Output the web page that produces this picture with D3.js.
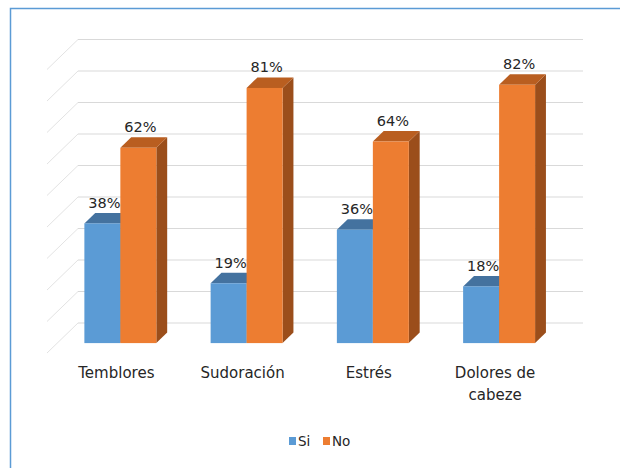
<!DOCTYPE html>
<html>
<head>
<meta charset="utf-8">
<script src="https://cdn.jsdelivr.net/npm/d3@7"></script>
<style>
    body { margin: 0; background: #fff; }
    svg { display: block; }
</style>
</head>
<body>
<div id="svg-container"></div>
<script>
/* 3d bar chart, Si / No por sintoma */
let categories = ["Temblores", "Sudoración", "Estrés", "Dolores de cabeze"];
let catLines = [["Temblores"], ["Sudoración"], ["Estrés"], ["Dolores de", "cabeze"]];
let seriesNames = ["Si", "No"];
let siValues = [0.38, 0.19, 0.36, 0.18];
let noValues = [0.62, 0.81, 0.64, 0.82];
let tickValues = [0, 0.1, 0.2, 0.3, 0.4, 0.5, 0.6, 0.7, 0.8, 0.9];

let svg_width = 620, svg_height = 468;
let font = "'DejaVu Sans', Verdana, sans-serif";

// floor front edge and depth vector (oblique projection)
let floorLeft = 47, floorRight = 552, floorY = 353;
let depthX = 31, depthY = 30;
let barZ0 = 0.33, barZ1 = 0.68;

let colors = {
    "Si": {front: "#5b9bd5", top: "#44729f", side: "#3d6792"},
    "No": {front: "#ed7d31", top: "#b95e20", side: "#9b4e1b"}
};

let svg = d3.select("#svg-container")
    .append("svg")
    .attr("width", svg_width)
    .attr("height", svg_height)
    .attr("id", "chart-svg");

// chart area border (only top and left show in the crop)
svg.append("path")
    .attr("d", "M10.5," + svg_height + " L10.5,8.5 L" + svg_width + ",8.5")
    .attr("fill", "none")
    .attr("stroke", "#5b9bd5")
    .attr("stroke-width", 1.5);

let x = d3.scaleBand()
    .domain(categories)
    .range([floorLeft, floorRight])
    .paddingInner(0.43)
    .paddingOuter(0.215);

let xs = d3.scaleBand()
    .domain(seriesNames)
    .range([0, x.bandwidth()]);

let y = d3.scaleLinear()
    .domain([0, 0.9])
    .range([floorY, floorY - 283.5]);

// project a point (front x, value, depth z in 0..1)
let px = function (fx, z) { return fx + depthX * z; };
let py = function (v, z) { return y(v) - depthY * z; };

// gridlines: back wall + side wall
let grid = svg.append("g").attr("id", "grid");
grid.selectAll(".back")
    .data(tickValues)
    .enter()
    .append("line")
    .attr("x1", px(floorLeft, 1))
    .attr("x2", px(floorRight, 1))
    .attr("y1", function (d) { return py(d, 1); })
    .attr("y2", function (d) { return py(d, 1); })
    .attr("stroke", "#d9d9d9")
    .attr("stroke-width", 1.2);
grid.selectAll(".side")
    .data(tickValues)
    .enter()
    .append("line")
    .attr("x1", px(floorLeft, 0))
    .attr("x2", px(floorLeft, 1))
    .attr("y1", function (d) { return py(d, 0); })
    .attr("y2", function (d) { return py(d, 1); })
    .attr("stroke", "#e3e3e3")
    .attr("stroke-width", 1);

let barsData = [];
categories.forEach(function (c, i) {
    barsData.push({cat: c, series: "Si", value: siValues[i]});
    barsData.push({cat: c, series: "No", value: noValues[i]});
});

let barGroup = svg.append("g").attr("id", "bars");
barGroup.selectAll(".bar")
    .data(barsData)
    .enter()
    .append("g")
    .attr("class", "bar")
    .each(function (d) {
        let g = d3.select(this);
        let x0 = x(d.cat) + xs(d.series);
        let x1 = x0 + xs.bandwidth();
        let col = colors[d.series];
        let pt = function (fx, v, z) { return px(fx, z) + "," + py(v, z); };

        g.append("polygon")
            .attr("points", [pt(x1, 0, barZ0), pt(x1, 0, barZ1), pt(x1, d.value, barZ1), pt(x1, d.value, barZ0)].join(" "))
            .attr("fill", col.side);
        g.append("polygon")
            .attr("points", [pt(x0, d.value, barZ0), pt(x1, d.value, barZ0), pt(x1, d.value, barZ1), pt(x0, d.value, barZ1)].join(" "))
            .attr("fill", col.top);
        g.append("rect")
            .attr("x", px(x0, barZ0))
            .attr("y", py(d.value, barZ0))
            .attr("width", x1 - x0)
            .attr("height", y(0) - y(d.value))
            .attr("fill", col.front);
    });

// data labels
svg.append("g").attr("id", "labels")
    .selectAll("text")
    .data(barsData)
    .enter()
    .append("text")
    .attr("x", function (d) { return px(x(d.cat) + xs(d.series) + xs.bandwidth() / 2, barZ0) + 2; })
    .attr("y", function (d) { return py(d.value, barZ1) - 5; })
    .attr("text-anchor", "middle")
    .attr("font-family", font)
    .attr("font-size", "14.5px")
    .attr("fill", "#262626")
    .text(function (d) { return Math.round(d.value * 100) + "%"; });

// category labels
let catGroup = svg.append("g").attr("id", "categories");
categories.forEach(function (c, i) {
    let t = catGroup.append("text")
        .attr("x", px(x(c) + x.bandwidth() / 2, barZ0) - 4)
        .attr("y", 378)
        .attr("text-anchor", "middle")
        .attr("font-family", font)
        .attr("font-size", "15px")
        .attr("fill", "#262626");
    catLines[i].forEach(function (line, j) {
        t.append("tspan")
            .attr("x", px(x(c) + x.bandwidth() / 2, barZ0) - 4)
            .attr("dy", j == 0 ? 0 : 22)
            .text(line);
    });
});

// legend
let legend = svg.append("g").attr("id", "legend");
let legendX = [289, 323];
seriesNames.forEach(function (s, i) {
    legend.append("rect")
        .attr("x", legendX[i])
        .attr("y", 437)
        .attr("width", 7)
        .attr("height", 8)
        .attr("fill", colors[s].front);
    legend.append("text")
        .attr("x", legendX[i] + 9)
        .attr("y", 446)
        .attr("font-family", font)
        .attr("font-size", "13.5px")
        .attr("fill", "#262626")
        .text(s);
});
</script>
</body>
</html>
